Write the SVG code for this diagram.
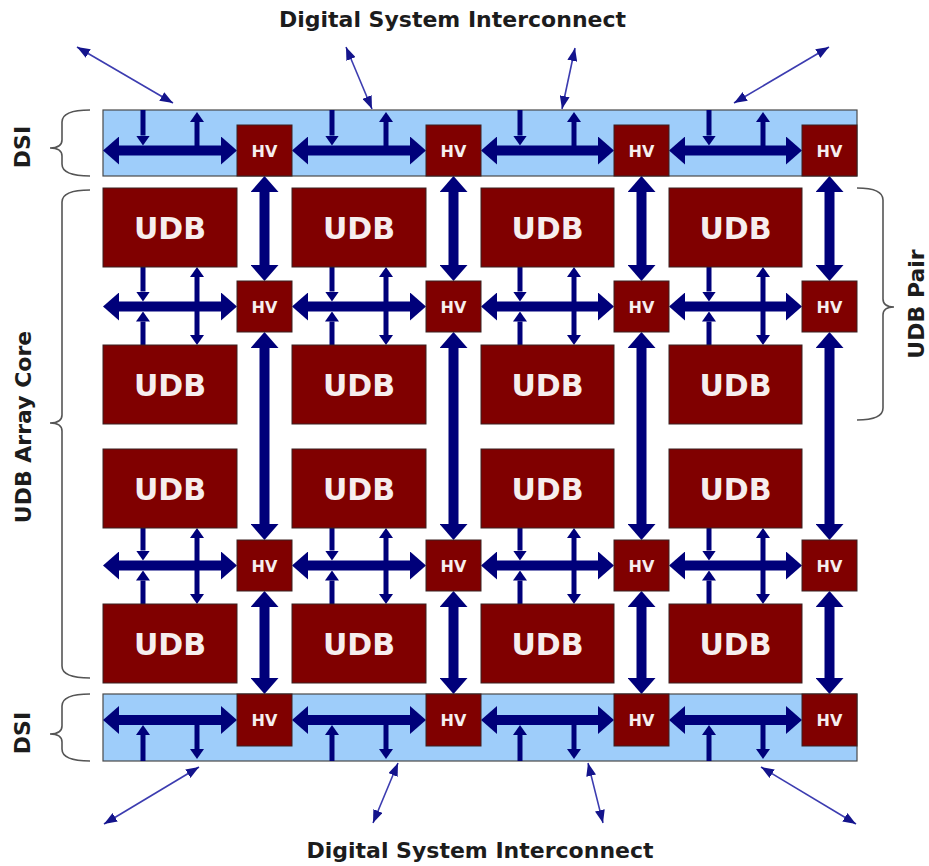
<svg xmlns="http://www.w3.org/2000/svg" width="929" height="866" viewBox="0 0 929 866">
  <defs>
    <style>
      .udb { fill: #800000; stroke: #3a2020; stroke-width: 1; }
      .hv { fill: #800000; stroke: #3a2020; stroke-width: 1; }
      .dsi { fill: #9ecdfa; stroke: #4a4a4a; stroke-width: 1.2; }
      .udb-t { font-family: "DejaVu Sans", sans-serif; font-weight: bold; font-size: 30px; fill: #f6eeee; text-anchor: middle; }
      .hv-t { font-family: "DejaVu Sans", sans-serif; font-weight: bold; font-size: 16px; fill: #f6eeee; text-anchor: middle; }
      .lbl { font-family: "DejaVu Sans", sans-serif; font-weight: bold; font-size: 22px; fill: #1c1c1c; text-anchor: middle; }
      .bus { stroke: #00007a; stroke-width: 10; fill: none; marker-start: url(#headL); marker-end: url(#headL); }
      .tap { stroke: #00007a; stroke-width: 5; fill: none; marker-end: url(#headS); }
      .tap2 { stroke: #00007a; stroke-width: 5; fill: none; marker-start: url(#headS); marker-end: url(#headS); }
      .ext { stroke: #3c3cb0; stroke-width: 1.6; fill: none; marker-start: url(#headT); marker-end: url(#headT); }
      .brace { stroke: #555555; stroke-width: 1.6; fill: none; }
    </style>
    <!-- large bus arrowhead: drawn from the line end outwards, 16 long, 28 wide -->
    <marker id="headL" viewBox="0 0 16 28" markerUnits="userSpaceOnUse" markerWidth="16" markerHeight="28" refX="0" refY="14" orient="auto-start-reverse">
      <path d="M0,0 L16,14 L0,28 z" fill="#00007a"/>
    </marker>
    <!-- small tap arrowhead: 10 long, 14 wide -->
    <marker id="headS" viewBox="0 0 10 14" markerUnits="userSpaceOnUse" markerWidth="10" markerHeight="14" refX="0" refY="7" orient="auto-start-reverse">
      <path d="M0,0 L10,7 L0,14 z" fill="#00007a"/>
    </marker>
    <!-- thin external arrowhead, tip on the line end -->
    <marker id="headT" viewBox="0 0 13 10" markerUnits="userSpaceOnUse" markerWidth="13" markerHeight="10" refX="13" refY="5" orient="auto-start-reverse">
      <path d="M0,0 L13,5 L0,10 z" fill="#14148c"/>
    </marker>
  </defs>

  <rect width="929" height="866" fill="#ffffff"/>

  <!-- titles -->
  <text class="lbl" x="452.5" y="27">Digital System Interconnect</text>
  <text class="lbl" x="480" y="858">Digital System Interconnect</text>

  <!-- side labels -->
  <text class="lbl" transform="translate(30,147) rotate(-90)">DSI</text>
  <text class="lbl" transform="translate(31,427) rotate(-90)">UDB Array Core</text>
  <text class="lbl" transform="translate(30,733) rotate(-90)">DSI</text>
  <text class="lbl" transform="translate(924,304) rotate(-90)">UDB Pair</text>

  <!-- braces -->
  <g id="braces">
    <path class="brace" d="M90,110 Q62,110 62,122 L62,140 Q62,148 50,148 Q62,148 62,156 L62,164 Q62,176 90,176"/>
    <path class="brace" d="M90,190 Q62,190 62,202 L62,415 Q62,423 50,423 Q62,423 62,431 L62,666 Q62,678 90,678"/>
    <path class="brace" d="M90,694 Q62,694 62,706 L62,726 Q62,734 50,734 Q62,734 62,742 L62,749 Q62,761 90,761"/>
    <path class="brace" d="M857,188 Q883,188 883,200 L883,299 Q883,307 894,307 Q883,307 883,315 L883,408 Q883,420 857,420"/>
  </g>

  <!-- DSI bands -->
  <g id="dsi-top"><rect class="dsi" x="103" y="110" width="754" height="66"/></g>
  <g id="dsi-bottom"><rect class="dsi" x="103" y="694" width="754" height="67"/></g>

  <!-- connectors -->
  <g id="connectors">
    <!-- external interconnect links -->
    <line class="ext" x1="77" y1="47" x2="173" y2="103"/>
    <line class="ext" x1="346" y1="47" x2="372" y2="109"/>
    <line class="ext" x1="575" y1="48" x2="562" y2="109"/>
    <line class="ext" x1="829" y1="47" x2="734" y2="103"/>
    <line class="ext" x1="104" y1="824" x2="199" y2="767"/>
    <line class="ext" x1="373" y1="823" x2="398" y2="763"/>
    <line class="ext" x1="603" y1="823" x2="588" y2="763"/>
    <line class="ext" x1="856" y1="824" x2="761" y2="767"/>

    <!-- horizontal buses (row y: 150.5, 306.5, 565.5, 720) -->
    <line class="bus" x1="119" y1="150.5" x2="221" y2="150.5"/>
    <line class="bus" x1="308" y1="150.5" x2="410" y2="150.5"/>
    <line class="bus" x1="497" y1="150.5" x2="598" y2="150.5"/>
    <line class="bus" x1="685" y1="150.5" x2="786" y2="150.5"/>

    <line class="bus" x1="119" y1="306.5" x2="221" y2="306.5"/>
    <line class="bus" x1="308" y1="306.5" x2="410" y2="306.5"/>
    <line class="bus" x1="497" y1="306.5" x2="598" y2="306.5"/>
    <line class="bus" x1="685" y1="306.5" x2="786" y2="306.5"/>

    <line class="bus" x1="119" y1="565.5" x2="221" y2="565.5"/>
    <line class="bus" x1="308" y1="565.5" x2="410" y2="565.5"/>
    <line class="bus" x1="497" y1="565.5" x2="598" y2="565.5"/>
    <line class="bus" x1="685" y1="565.5" x2="786" y2="565.5"/>

    <line class="bus" x1="119" y1="720" x2="221" y2="720"/>
    <line class="bus" x1="308" y1="720" x2="410" y2="720"/>
    <line class="bus" x1="497" y1="720" x2="598" y2="720"/>
    <line class="bus" x1="685" y1="720" x2="786" y2="720"/>

    <!-- vertical buses between HV switches -->
    <line class="bus" x1="264.5" y1="192" x2="264.5" y2="265"/>
    <line class="bus" x1="264.5" y1="348" x2="264.5" y2="524"/>
    <line class="bus" x1="264.5" y1="607" x2="264.5" y2="678"/>
    <line class="bus" x1="453.5" y1="192" x2="453.5" y2="265"/>
    <line class="bus" x1="453.5" y1="348" x2="453.5" y2="524"/>
    <line class="bus" x1="453.5" y1="607" x2="453.5" y2="678"/>
    <line class="bus" x1="641.5" y1="192" x2="641.5" y2="265"/>
    <line class="bus" x1="641.5" y1="348" x2="641.5" y2="524"/>
    <line class="bus" x1="641.5" y1="607" x2="641.5" y2="678"/>
    <line class="bus" x1="829.5" y1="192" x2="829.5" y2="265"/>
    <line class="bus" x1="829.5" y1="348" x2="829.5" y2="524"/>
    <line class="bus" x1="829.5" y1="607" x2="829.5" y2="678"/>

    <!-- taps: top DSI -->
    <line class="tap" x1="143" y1="110" x2="143" y2="135.5"/>
    <line class="tap" x1="197" y1="150.5" x2="197" y2="122"/>
    <line class="tap" x1="332" y1="110" x2="332" y2="135.5"/>
    <line class="tap" x1="386" y1="150.5" x2="386" y2="122"/>
    <line class="tap" x1="520" y1="110" x2="520" y2="135.5"/>
    <line class="tap" x1="574" y1="150.5" x2="574" y2="122"/>
    <line class="tap" x1="709" y1="110" x2="709" y2="135.5"/>
    <line class="tap" x1="763" y1="150.5" x2="763" y2="122"/>

    <!-- taps: upper UDB pair channel -->
    <line class="tap" x1="143" y1="267" x2="143" y2="291.5"/>
    <line class="tap" x1="143" y1="345" x2="143" y2="321.5"/>
    <line class="tap2" x1="197" y1="277" x2="197" y2="335"/>
    <line class="tap" x1="332" y1="267" x2="332" y2="291.5"/>
    <line class="tap" x1="332" y1="345" x2="332" y2="321.5"/>
    <line class="tap2" x1="386" y1="277" x2="386" y2="335"/>
    <line class="tap" x1="520" y1="267" x2="520" y2="291.5"/>
    <line class="tap" x1="520" y1="345" x2="520" y2="321.5"/>
    <line class="tap2" x1="574" y1="277" x2="574" y2="335"/>
    <line class="tap" x1="709" y1="267" x2="709" y2="291.5"/>
    <line class="tap" x1="709" y1="345" x2="709" y2="321.5"/>
    <line class="tap2" x1="763" y1="277" x2="763" y2="335"/>

    <!-- taps: lower UDB pair channel -->
    <line class="tap" x1="143" y1="528" x2="143" y2="550.5"/>
    <line class="tap" x1="143" y1="604" x2="143" y2="580.5"/>
    <line class="tap2" x1="197" y1="538" x2="197" y2="594"/>
    <line class="tap" x1="332" y1="528" x2="332" y2="550.5"/>
    <line class="tap" x1="332" y1="604" x2="332" y2="580.5"/>
    <line class="tap2" x1="386" y1="538" x2="386" y2="594"/>
    <line class="tap" x1="520" y1="528" x2="520" y2="550.5"/>
    <line class="tap" x1="520" y1="604" x2="520" y2="580.5"/>
    <line class="tap2" x1="574" y1="538" x2="574" y2="594"/>
    <line class="tap" x1="709" y1="528" x2="709" y2="550.5"/>
    <line class="tap" x1="709" y1="604" x2="709" y2="580.5"/>
    <line class="tap2" x1="763" y1="538" x2="763" y2="594"/>

    <!-- taps: bottom DSI -->
    <line class="tap" x1="143" y1="761" x2="143" y2="735"/>
    <line class="tap" x1="197" y1="720" x2="197" y2="749"/>
    <line class="tap" x1="332" y1="761" x2="332" y2="735"/>
    <line class="tap" x1="386" y1="720" x2="386" y2="749"/>
    <line class="tap" x1="520" y1="761" x2="520" y2="735"/>
    <line class="tap" x1="574" y1="720" x2="574" y2="749"/>
    <line class="tap" x1="709" y1="761" x2="709" y2="735"/>
    <line class="tap" x1="763" y1="720" x2="763" y2="749"/>
  </g>

  <!-- HV switches, top DSI row -->
  <g id="hv-0-0"><rect class="hv" x="237" y="125" width="55" height="51"/><text class="hv-t" x="264.5" y="156.5">HV</text></g>
  <g id="hv-0-1"><rect class="hv" x="426" y="125" width="55" height="51"/><text class="hv-t" x="453.5" y="156.5">HV</text></g>
  <g id="hv-0-2"><rect class="hv" x="614" y="125" width="55" height="51"/><text class="hv-t" x="641.5" y="156.5">HV</text></g>
  <g id="hv-0-3"><rect class="hv" x="802" y="125" width="55" height="51"/><text class="hv-t" x="829.5" y="156.5">HV</text></g>

  <!-- HV switches, upper core row -->
  <g id="hv-1-0"><rect class="hv" x="237" y="281" width="55" height="51"/><text class="hv-t" x="264.5" y="312.5">HV</text></g>
  <g id="hv-1-1"><rect class="hv" x="426" y="281" width="55" height="51"/><text class="hv-t" x="453.5" y="312.5">HV</text></g>
  <g id="hv-1-2"><rect class="hv" x="614" y="281" width="55" height="51"/><text class="hv-t" x="641.5" y="312.5">HV</text></g>
  <g id="hv-1-3"><rect class="hv" x="802" y="281" width="55" height="51"/><text class="hv-t" x="829.5" y="312.5">HV</text></g>

  <!-- HV switches, lower core row -->
  <g id="hv-2-0"><rect class="hv" x="237" y="540" width="55" height="51"/><text class="hv-t" x="264.5" y="571.5">HV</text></g>
  <g id="hv-2-1"><rect class="hv" x="426" y="540" width="55" height="51"/><text class="hv-t" x="453.5" y="571.5">HV</text></g>
  <g id="hv-2-2"><rect class="hv" x="614" y="540" width="55" height="51"/><text class="hv-t" x="641.5" y="571.5">HV</text></g>
  <g id="hv-2-3"><rect class="hv" x="802" y="540" width="55" height="51"/><text class="hv-t" x="829.5" y="571.5">HV</text></g>

  <!-- HV switches, bottom DSI row -->
  <g id="hv-3-0"><rect class="hv" x="237" y="694" width="55" height="52"/><text class="hv-t" x="264.5" y="726">HV</text></g>
  <g id="hv-3-1"><rect class="hv" x="426" y="694" width="55" height="52"/><text class="hv-t" x="453.5" y="726">HV</text></g>
  <g id="hv-3-2"><rect class="hv" x="614" y="694" width="55" height="52"/><text class="hv-t" x="641.5" y="726">HV</text></g>
  <g id="hv-3-3"><rect class="hv" x="802" y="694" width="55" height="52"/><text class="hv-t" x="829.5" y="726">HV</text></g>

  <!-- UDB blocks, row 1 -->
  <g id="udb-0-0"><rect class="udb" x="103" y="188" width="134" height="79"/><text class="udb-t" x="170" y="238.5">UDB</text></g>
  <g id="udb-0-1"><rect class="udb" x="292" y="188" width="134" height="79"/><text class="udb-t" x="359" y="238.5">UDB</text></g>
  <g id="udb-0-2"><rect class="udb" x="481" y="188" width="133" height="79"/><text class="udb-t" x="547.5" y="238.5">UDB</text></g>
  <g id="udb-0-3"><rect class="udb" x="669" y="188" width="133" height="79"/><text class="udb-t" x="735.5" y="238.5">UDB</text></g>

  <!-- UDB blocks, row 2 -->
  <g id="udb-1-0"><rect class="udb" x="103" y="345" width="134" height="79"/><text class="udb-t" x="170" y="395.5">UDB</text></g>
  <g id="udb-1-1"><rect class="udb" x="292" y="345" width="134" height="79"/><text class="udb-t" x="359" y="395.5">UDB</text></g>
  <g id="udb-1-2"><rect class="udb" x="481" y="345" width="133" height="79"/><text class="udb-t" x="547.5" y="395.5">UDB</text></g>
  <g id="udb-1-3"><rect class="udb" x="669" y="345" width="133" height="79"/><text class="udb-t" x="735.5" y="395.5">UDB</text></g>

  <!-- UDB blocks, row 3 -->
  <g id="udb-2-0"><rect class="udb" x="103" y="449" width="134" height="79"/><text class="udb-t" x="170" y="499.5">UDB</text></g>
  <g id="udb-2-1"><rect class="udb" x="292" y="449" width="134" height="79"/><text class="udb-t" x="359" y="499.5">UDB</text></g>
  <g id="udb-2-2"><rect class="udb" x="481" y="449" width="133" height="79"/><text class="udb-t" x="547.5" y="499.5">UDB</text></g>
  <g id="udb-2-3"><rect class="udb" x="669" y="449" width="133" height="79"/><text class="udb-t" x="735.5" y="499.5">UDB</text></g>

  <!-- UDB blocks, row 4 -->
  <g id="udb-3-0"><rect class="udb" x="103" y="604" width="134" height="79"/><text class="udb-t" x="170" y="654.5">UDB</text></g>
  <g id="udb-3-1"><rect class="udb" x="292" y="604" width="134" height="79"/><text class="udb-t" x="359" y="654.5">UDB</text></g>
  <g id="udb-3-2"><rect class="udb" x="481" y="604" width="133" height="79"/><text class="udb-t" x="547.5" y="654.5">UDB</text></g>
  <g id="udb-3-3"><rect class="udb" x="669" y="604" width="133" height="79"/><text class="udb-t" x="735.5" y="654.5">UDB</text></g>
</svg>
